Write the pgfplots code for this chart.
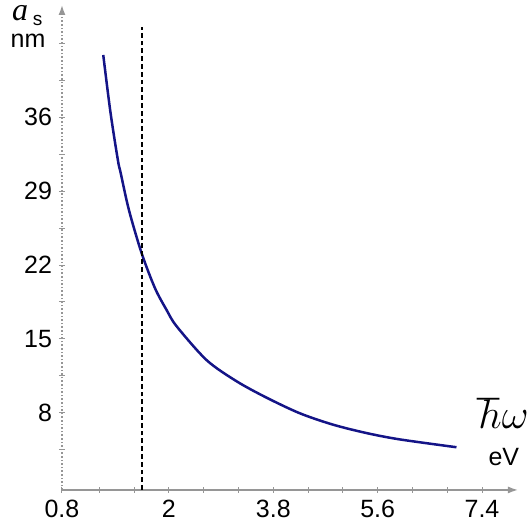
\documentclass[border=0pt]{standalone}
\usepackage{pgfplots}
\pgfplotsset{compat=1.18}
\usetikzlibrary{arrows.meta}
\usepackage{fontspec}
\setmainfont{Liberation Sans}
\newfontfamily\seriffont{Liberation Serif}
\definecolor{curve}{RGB}{20,20,135}
\definecolor{axisgray}{RGB}{150,150,150}
\begin{document}
\begin{tikzpicture}
\begin{axis}[
  scale only axis, width=228pt, height=242.5pt,
  xmin=0.155, xmax=8.02, ymin=0.72, ymax=46.6,
  axis x line=bottom, axis y line=left,
  x axis line style={axisgray, line width=0.7pt, -{Latex[length=5pt,width=3.5pt]}},
  y axis line style={axisgray, line width=0.8pt, densely dotted, -{Latex[length=5pt,width=3.5pt]}},
  xtick={0.155,2,3.8,5.6,7.4}, xticklabels={0.8,2,3.8,5.6,7.4},
  minor xtick={0.8,1.4,2.6,3.2,4.4,5.0,6.2,6.8},
  ytick={8,15,22,29,36}, minor ytick={4.5,11.5,18.5,25.5,32.5,39.5,43},
  tick align=center, major tick length=3pt, minor tick length=3pt,
  every tick/.style={axisgray, line width=0.5pt},
  every tick label/.append style={font=\fontsize{12.5}{15}\selectfont, text=black},
  /pgf/number format/assume math mode=true,
  clip=false,
]
\addplot[curve, line width=1.25pt, smooth] coordinates {
(0.867,41.87) (0.99,36.5) (1.12,31.9) (1.168,30.7) (1.31,27.2)
(1.53,23.1) (1.76,19.8) (1.96,17.74) (2.133,16.2) (2.65,13.0)
(3.167,11.0) (3.684,9.45) (4.259,7.97) (4.828,6.9) (5.409,6.1)
(5.983,5.5) (6.960,4.76)
};
\addplot[black, line width=1pt, dash pattern=on 2.4pt off 1.5pt] coordinates {(1.535,0.72) (1.535,44.5)};
\node[inner sep=0pt, font=\seriffont\itshape\fontsize{16}{18}\selectfont] at (axis cs:-0.569,45.8) {a};
\node[inner sep=0pt, font=\fontsize{9.5}{11}\selectfont] at (axis cs:-0.267,45.1) {s};
\node[inner sep=0pt, font=\fontsize{12.5}{15}\selectfont] at (axis cs:-0.431,43.19) {nm};
\node[inner sep=0pt, font=\fontsize{20}{24}\selectfont] at (axis cs:7.759,8.0) {$\hbar\omega$};
\node[inner sep=0pt, font=\fontsize{12.5}{15}\selectfont] at (axis cs:7.776,3.84) {eV};
\path (axis cs:-0.914,-3.164) rectangle (axis cs:8.224,47.07);
\end{axis}
\end{tikzpicture}
\end{document}
